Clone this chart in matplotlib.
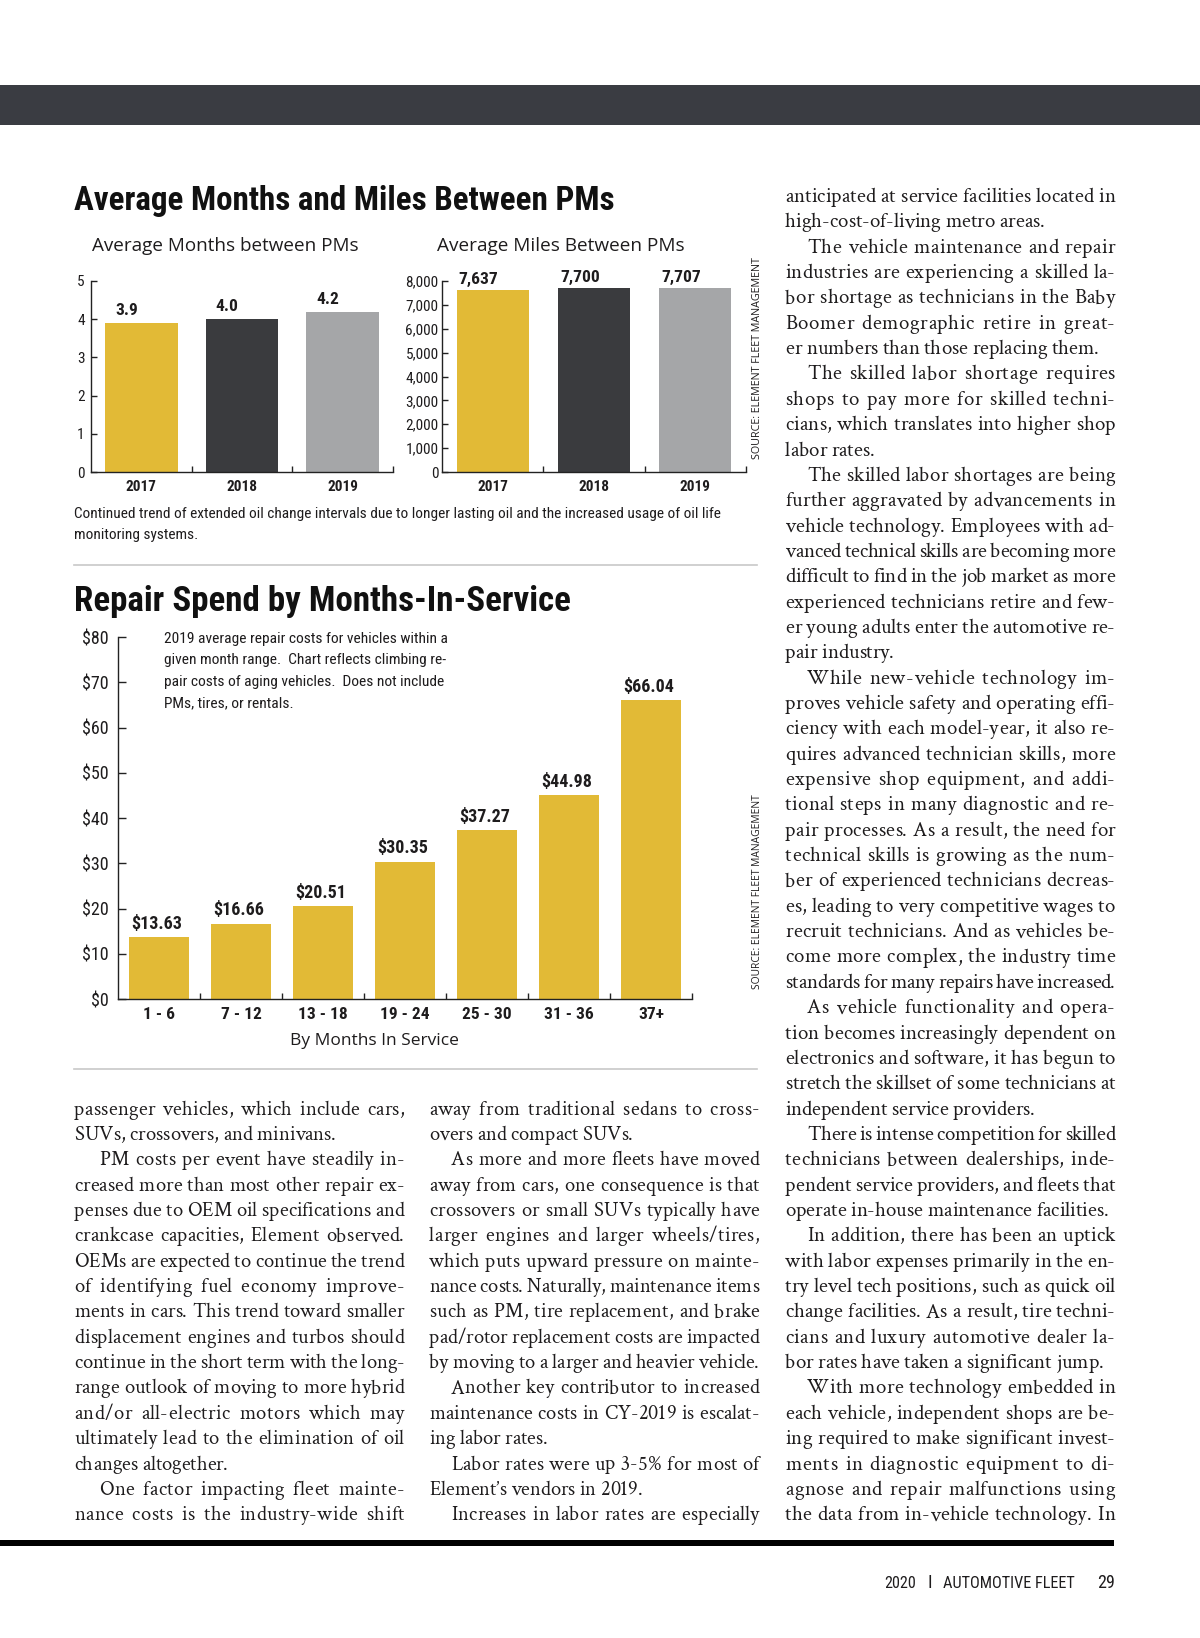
import matplotlib
matplotlib.use("Agg")
import numpy as np
import matplotlib.pyplot as plt
from matplotlib.font_manager import FontProperties
from matplotlib.patches import Rectangle
from matplotlib.lines import Line2D
from matplotlib.ticker import FuncFormatter

# ---- data ----
years = ["2017", "2018", "2019"]
months_between = [3.9, 4.0, 4.2]
miles_between = [7637, 7700, 7707]
service_ranges = ["1 - 6", "7 - 12", "13 - 18", "19 - 24", "25 - 30", "31 - 36", "37+"]
repair_spend = [13.63, 16.66, 20.51, 30.35, 37.27, 44.98, 66.04]

title_pm = "Average Months and Miles Between PMs"
sub_months = "Average Months between PMs"
sub_miles = "Average Miles Between PMs"
caption_pm = ["Continued trend of extended oil change intervals due to longer lasting oil and the increased usage of oil life",
              "monitoring systems."]
title_repair = "Repair Spend by Months-In-Service"
note_repair = ["2019 average repair costs for vehicles within a",
               "given month range.  Chart reflects climbing re-",
               "pair costs of aging vehicles.  Does not include",
               "PMs, tires, or rentals."]
xlabel_repair = "By Months In Service"
source = "SOURCE: ELEMENT FLEET MANAGEMENT"

col1 = [
    "passenger vehicles, which include cars,",
    "SUVs, crossovers, and minivans.",
    "\tPM costs per event have steadily in-",
    "creased more than most other repair ex-",
    "penses due to OEM oil specifications and",
    "crankcase capacities, Element observed.",
    "OEMs are expected to continue the trend",
    "of identifying fuel economy improve-",
    "ments in cars. This trend toward smaller",
    "displacement engines and turbos should",
    "continue in the short term with the long-",
    "range outlook of moving to more hybrid",
    "and/or all-electric motors which may",
    "ultimately lead to the elimination of oil",
    "changes altogether.",
    "\tOne factor impacting fleet mainte-",
    "nance costs is the industry-wide shift",
]
col2 = [
    "away from traditional sedans to cross-",
    "overs and compact SUVs.",
    "\tAs more and more fleets have moved",
    "away from cars, one consequence is that",
    "crossovers or small SUVs typically have",
    "larger engines and larger wheels/tires,",
    "which puts upward pressure on mainte-",
    "nance costs. Naturally, maintenance items",
    "such as PM, tire replacement, and brake",
    "pad/rotor replacement costs are impacted",
    "by moving to a larger and heavier vehicle.",
    "\tAnother key contributor to increased",
    "maintenance costs in CY-2019 is escalat-",
    "ing labor rates.",
    "\tLabor rates were up 3-5% for most of",
    "Element\u2019s vendors in 2019.",
    "\tIncreases in labor rates are especially",
]
col3 = [
    "anticipated at service facilities located in",
    "high-cost-of-living metro areas.",
    "\tThe vehicle maintenance and repair",
    "industries are experiencing a skilled la-",
    "bor shortage as technicians in the Baby",
    "Boomer demographic retire in great-",
    "er numbers than those replacing them.",
    "\tThe skilled labor shortage requires",
    "shops to pay more for skilled techni-",
    "cians, which translates into higher shop",
    "labor rates.",
    "\tThe skilled labor shortages are being",
    "further aggravated by advancements in",
    "vehicle technology. Employees with ad-",
    "vanced technical skills are becoming more",
    "difficult to find in the job market as more",
    "experienced technicians retire and few-",
    "er young adults enter the automotive re-",
    "pair industry.",
    "\tWhile new-vehicle technology im-",
    "proves vehicle safety and operating effi-",
    "ciency with each model-year, it also re-",
    "quires advanced technician skills, more",
    "expensive shop equipment, and addi-",
    "tional steps in many diagnostic and re-",
    "pair processes. As a result, the need for",
    "technical skills is growing as the num-",
    "ber of experienced technicians decreas-",
    "es, leading to very competitive wages to",
    "recruit technicians. And as vehicles be-",
    "come more complex, the industry time",
    "standards for many repairs have increased.",
    "\tAs vehicle functionality and opera-",
    "tion becomes increasingly dependent on",
    "electronics and software, it has begun to",
    "stretch the skillset of some technicians at",
    "independent service providers.",
    "\tThere is intense competition for skilled",
    "technicians between dealerships, inde-",
    "pendent service providers, and fleets that",
    "operate in-house maintenance facilities.",
    "\tIn addition, there has been an uptick",
    "with labor expenses primarily in the en-",
    "try level tech positions, such as quick oil",
    "change facilities. As a result, tire techni-",
    "cians and luxury automotive dealer la-",
    "bor rates have taken a significant jump.",
    "\tWith more technology embedded in",
    "each vehicle, independent shops are be-",
    "ing required to make significant invest-",
    "ments in diagnostic equipment to di-",
    "agnose and repair malfunctions using",
    "the data from in-vehicle technology. In",
]

# ---- style ----
YELLOW = "#E2BA36"
DARK = "#3A3B3E"
GREY = "#A5A6A8"
BAND = "#3A3C42"
INK = "#1e1c1d"
COND = ["Roboto Condensed", "Liberation Sans Narrow", "DejaVu Sans"]
SANS = ["Open Sans", "DejaVu Sans"]
SERIF = ["Crimson Text", "Liberation Serif", "DejaVu Serif"]

W, H = 1200, 1638
fig = plt.figure(figsize=(W / 100, H / 100), dpi=100)
renderer = fig.canvas.get_renderer()


def text_width(s, family, size, weight="normal"):
    fp = FontProperties(family=family, size=size, weight=weight)
    w, h, d = renderer.get_text_width_height_descent(s, fp, ismath=False)
    return w


def put(x, y, s, family, size, width=None, weight="normal", ha="left", va="center", rotation=0, color=INK):
    # optional width makes the text span a given number of pixels
    if width is not None:
        size = size * width / text_width(s, family, size, weight)
    fig.text(x / W, 1 - y / H, s, family=family, fontsize=size, fontweight=weight,
             ha=ha, va=va, rotation=rotation, color=color)
    return size


def px_axes(left, top, right, bottom):
    return fig.add_axes([left / W, 1 - bottom / H, (right - left) / W, (bottom - top) / H])


def style_axes(ax, cats, ylen, ypad, xpad, ysize, xsize):
    n = len(cats)
    ax.set_xlim(-0.5, n - 0.5)
    for s in ["top", "right"]:
        ax.spines[s].set_visible(False)
    for s in ["left", "bottom"]:
        ax.spines[s].set_linewidth(1.0)
        ax.spines[s].set_color("#222222")
    ax.set_xticks(range(n))
    ax.set_xticklabels(cats, family=COND, fontweight="bold", fontsize=xsize, color=INK)
    ax.set_xticks([i + 0.5 for i in range(n)], minor=True)
    ax.tick_params(axis="x", which="major", length=0, pad=xpad)
    ax.tick_params(axis="x", which="minor", direction="in", length=4.3, width=1.0, color="#222222")
    ax.tick_params(axis="y", direction="in", length=ylen, width=1.0, pad=ypad, color="#222222",
                   labelsize=ysize, labelcolor=INK, labelfontfamily=COND)
    ax.set_facecolor("none")


adv_cache = {}


def advance(c, family):
    key = (c, family[0])
    if key not in adv_cache:
        adv_cache[key] = text_width("x" + c + "x", family, 10) - text_width("xx", family, 10)
    return adv_cache[key]


def layout_column(lines, x0, width, y0, step, family, indent=24, track_share=0.6):
    # justified block: slack goes partly into letter spacing, partly into word gaps
    parsed = []
    for i, ln in enumerate(lines):
        last = i + 1 < len(lines) and lines[i + 1].startswith("\t")
        ind = indent if ln.startswith("\t") else 0
        s = " ".join(ln.strip().split())
        parsed.append((ind, s, last))
    ratios = [sum(advance(c, family) for c in s) / (width - ind) for ind, s, last in parsed if not last]
    size = 10 / np.percentile(ratios, 90)
    k = size / 10
    for i, (ind, s, last) in enumerate(parsed):
        y = 1 - (y0 + i * step) / H
        x = x0 + ind
        nat = sum(advance(c, family) for c in s) * k
        nsp = s.count(" ")
        slack = x0 + width - x - nat
        track = extra = 0.0
        if len(s) > 1 and (not last or slack < 0):
            if nsp:
                track = track_share * slack / (len(s) - 1)
                extra = (1 - track_share) * slack / nsp
            else:
                track = slack / (len(s) - 1)
        for c in s:
            if c != " ":
                fig.text(x / W, y, c, family=family, fontsize=size, ha="left", va="baseline", color=INK)
            x += advance(c, family) * k + track + (extra if c == " " else 0)


# ---- page furniture ----
fig.add_artist(Rectangle((0, 1 - 125 / H), 1, 40 / H, transform=fig.transFigure, color=BAND, lw=0))
fig.add_artist(Rectangle((0, 1 - 1546 / H), 1114 / W, 6 / H, transform=fig.transFigure, color="black", lw=0))
for yy in [565, 1069]:
    fig.add_artist(Line2D([74 / W, 757 / W], [1 - yy / H] * 2, transform=fig.transFigure, color="#c8c8c8", lw=1.2))

# ---- chart 1: months ----
put(74, 201, title_pm, COND, 20, width=541, weight="bold", color="#111111")
put(92, 246, sub_months, SANS, 13, width=265)
put(437, 246, sub_miles, SANS, 13, width=247)

ax1 = px_axes(91, 281, 393, 472)
ax1.bar(range(len(years)), months_between, width=0.72, color=[YELLOW, DARK, GREY])
ax1.set_ylim(0, 5)
ax1.set_yticks(range(6))
style_axes(ax1, years, 4.3, 4.5, 6, 11, 11)
for i, v in enumerate(months_between):
    ax1.annotate(f"{v:.1f}", (i - 0.36 + 0.1, v), xytext=(0, 3.5), textcoords="offset points",
                 ha="left", va="bottom", family=COND, fontweight="bold", fontsize=12.5, color=INK)

# ---- chart 2: miles ----
ax2 = px_axes(442, 281, 746, 472)
ax2.bar(range(len(years)), miles_between, width=0.71, color=[YELLOW, DARK, GREY])
ax2.set_ylim(0, 8000)
ax2.set_yticks(range(0, 8001, 1000))
ax2.yaxis.set_major_formatter(FuncFormatter(lambda v, p: f"{v:,.0f}"))
style_axes(ax2, years, 4.3, 2.5, 6, 11, 11)
for i, v in enumerate(miles_between):
    ax2.annotate(f"{v:,}", (i - 0.355 + 0.02, v), xytext=(0, 2), textcoords="offset points",
                 ha="left", va="bottom", family=COND, fontweight="bold", fontsize=12.5, color=INK)

put(757, 358, source, SANS, 8, width=204, rotation=90, ha="center")
cap_size = put(74, 514, caption_pm[0], COND, 11, width=650)
put(74, 535, caption_pm[1], COND, cap_size)

# ---- chart 3: repair spend ----
put(74, 602, title_repair, COND, 20, width=495, weight="bold", color="#111111")
ax3 = px_axes(118, 637, 692, 999)
ax3.bar(range(len(service_ranges)), repair_spend, width=0.72, color=YELLOW)
ax3.set_ylim(0, 80)
ax3.set_yticks(range(0, 81, 10))
ax3.yaxis.set_major_formatter(FuncFormatter(lambda v, p: f"${v:.0f}"))
style_axes(ax3, service_ranges, 5.8, 6.8, 6, 13, 12.5)
for i, v in enumerate(repair_spend):
    ax3.annotate(f"${v:.2f}", (i - 0.03, v), xytext=(0, 3), textcoords="offset points",
                 ha="center", va="bottom", family=COND, fontweight="bold", fontsize=13, color=INK)

note_size = 11 * 283 / text_width(note_repair[0], COND, 11)
for j, ln in enumerate(note_repair):
    put(164, 639 + j * 21.3, ln, COND, note_size)
put(374, 1041, xlabel_repair, SANS, 13, width=167, ha="center")
put(757, 892, source, SANS, 8, width=196, rotation=90, ha="center")

# ---- body text ----
STEP = 25.35
layout_column(col3, 785, 330, 202, STEP, SERIF, indent=22, track_share=0.7)
layout_column(col1, 74, 330, 202 + 36 * STEP, STEP, SERIF, indent=25, track_share=0.5)
layout_column(col2, 429, 330, 202 + 36 * STEP, STEP, SERIF, indent=22, track_share=0.5)

# ---- footer ----
put(884, 1583, "2020", COND, 13, width=32)
put(930, 1583, "I", COND, 13, ha="center")
put(943, 1583, "AUTOMOTIVE FLEET", COND, 13, width=131)
put(1115, 1583, "29", COND, 13, ha="right")

fig.savefig("out.png", dpi=100)
